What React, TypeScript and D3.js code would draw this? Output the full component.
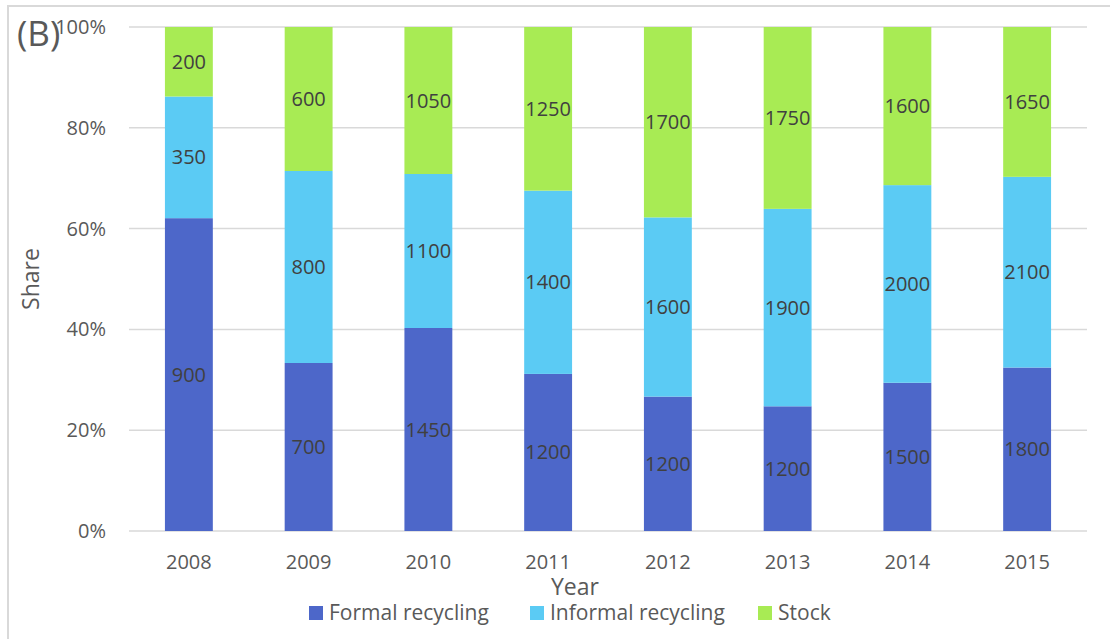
import React from 'react';
import * as d3 from 'd3';

const years = ['2008', '2009', '2010', '2011', '2012', '2013', '2014', '2015'];
const formalRecycling = [900, 700, 1450, 1200, 1200, 1200, 1500, 1800];
const informalRecycling = [350, 800, 1100, 1400, 1600, 1900, 2000, 2100];
const stock = [200, 600, 1050, 1250, 1700, 1750, 1600, 1650];
const seriesNames = ['Formal recycling', 'Informal recycling', 'Stock'];
const yTicks = [0, 0.2, 0.4, 0.6, 0.8, 1];

const colors = ['#4d67c9', '#5bcbf4', '#a8eb54'];
const font = '"Open Sans", sans-serif';
const textColor = '#595959';

export default function App() {
  const width = 1110;
  const height = 639;
  const plot = { left: 129, right: 1087, top: 27, bottom: 531 };

  const rows = years.map((y, i) => ({
    year: y,
    formal: formalRecycling[i],
    informal: informalRecycling[i],
    stock: stock[i],
  }));
  const keys = ['formal', 'informal', 'stock'];
  const stacked = d3.stack<any>().keys(keys).offset(d3.stackOffsetExpand)(rows);

  const x = d3
    .scaleBand()
    .domain(years)
    .range([plot.left, plot.right])
    .paddingInner(0.6)
    .paddingOuter(0.3);
  const y = d3.scaleLinear().domain([0, 1]).range([plot.bottom, plot.top]);
  const fmt = d3.format('.0%');

  return (
    <svg
      width={width}
      height={height}
      style={{ position: 'absolute', left: 0, top: 0, background: '#fff' }}
      fontFamily={font}
    >
      <rect x={8} y={6} width={width + 20} height={height + 20} fill="#fff" stroke="#d9d9d9" strokeWidth={2} />

      {yTicks.map(t => (
        <g key={t}>
          <line x1={plot.left} x2={plot.right} y1={y(t)} y2={y(t)} stroke="#d9d9d9" strokeWidth={1.5} />
          <text x={106} y={y(t)} dy="0.35em" textAnchor="end" fontSize={20} fill={textColor}>
            {fmt(t)}
          </text>
        </g>
      ))}

      {stacked.map((s, si) => (
        <g key={s.key}>
          {s.map((d, i) => (
            <g key={i}>
              <rect
                x={x(years[i])}
                width={x.bandwidth()}
                y={y(d[1])}
                height={y(d[0]) - y(d[1])}
                fill={colors[si]}
              />
              <text
                x={(x(years[i]) as number) + x.bandwidth() / 2}
                y={(y(d[0]) + y(d[1])) / 2}
                dy="0.35em"
                textAnchor="middle"
                fontSize={20}
                fill="#404040"
              >
                {(d.data as any)[s.key]}
              </text>
            </g>
          ))}
        </g>
      ))}

      {years.map(yr => (
        <text
          key={yr}
          x={(x(yr) as number) + x.bandwidth() / 2}
          y={569}
          textAnchor="middle"
          fontSize={20}
          fill={textColor}
        >
          {yr}
        </text>
      ))}

      <text x={575} y={595} textAnchor="middle" fontSize={23} fill={textColor}>
        Year
      </text>
      <text
        transform={`translate(39, ${(plot.top + plot.bottom) / 2}) rotate(-90)`}
        textAnchor="middle"
        fontSize={23}
        fill={textColor}
      >
        Share
      </text>
      <text x={17} y={46} fontSize={35} fill={textColor}>
        (B)
      </text>

      {seriesNames.map((name, i) => {
        const lx = [309, 530, 758][i];
        return (
          <g key={name}>
            <rect x={lx} y={606} width={14} height={14} fill={colors[i]} />
            <text x={lx + 20} y={620} fontSize={21} fill={textColor}>
              {name}
            </text>
          </g>
        );
      })}
    </svg>
  );
}
